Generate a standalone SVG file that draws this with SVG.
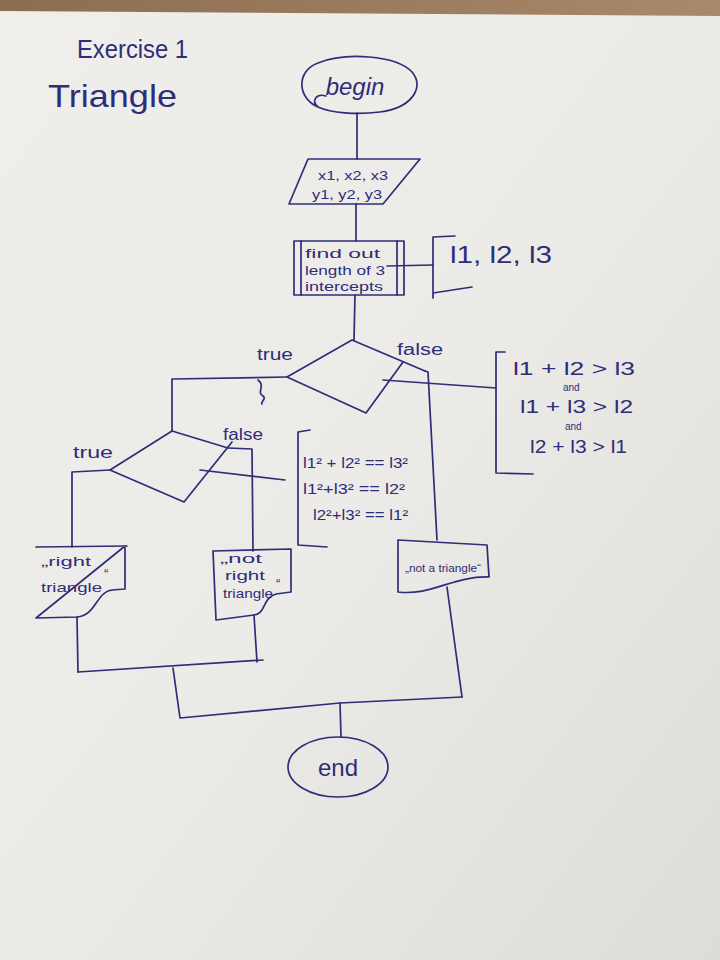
<svg xmlns="http://www.w3.org/2000/svg" width="720" height="960" viewBox="0 0 720 960">
  <defs>
    <linearGradient id="paper" x1="0" y1="0" x2="1" y2="1">
      <stop offset="0" stop-color="#efeeeb"/>
      <stop offset="0.5" stop-color="#ecebe8"/>
      <stop offset="1" stop-color="#dedcd8"/>
    </linearGradient>
    <linearGradient id="desk" x1="0" y1="0" x2="1" y2="0">
      <stop offset="0" stop-color="#8c6d50"/>
      <stop offset="1" stop-color="#a9896a"/>
    </linearGradient>
    <style>
      .ink { fill: none; stroke: #2e2d78; stroke-width: 1.7; stroke-linecap: round; stroke-linejoin: round; }
      .txt { fill: #2e2d78; font-family: "Liberation Sans", "DejaVu Sans", sans-serif; }
      .lbl { font-size: 16px; }
      .small { font-size: 13px; }
      .and { font-size: 10px; }
    </style>
  </defs>

  <!-- sheet of paper on the desk -->
  <rect x="0" y="0" width="720" height="960" fill="url(#paper)"/>
  <path d="M0,0 H720 V16 L0,11 Z" fill="url(#desk)"/>

  <!-- heading -->
  <g id="title">
    <text class="txt" x="77" y="58" font-size="26" textLength="111" lengthAdjust="spacingAndGlyphs">Exercise 1</text>
    <text class="txt" x="48" y="107" font-size="32" textLength="129" lengthAdjust="spacingAndGlyphs">Triangle</text>
  </g>

  <!-- connectors -->
  <g id="connectors" class="ink">
    <path d="M357,113 L357,159"/>
    <path d="M356,204 L356,241"/>
    <path d="M355,295 L354,340"/>
    <!-- outer decision: true branch -->
    <path d="M287,377 L172,379 L172,431"/>
    <path d="M258,380 C266,386 256,392 263,396 C267,399 260,402 262,404"/>
    <!-- outer decision: false branch -->
    <path d="M425,371 L428,372 L437,540"/>
    <!-- inner decision: true branch -->
    <path d="M110,470 L72,472 L72,547"/>
    <!-- inner decision: false branch -->
    <path d="M228,448 L252,449 L253,551"/>
    <!-- outputs to merge -->
    <path d="M77,617 L78,672"/>
    <path d="M254,615 L257,662"/>
    <path d="M78,672 L263,660"/>
    <path d="M173,668 L180,718 L340,703 L462,697"/>
    <path d="M447,587 L462,697"/>
    <path d="M340,703 L341,737"/>
    <!-- annotation leaders -->
    <path d="M387,266 L433,265"/>
    <path d="M383,380 L496,388"/>
    <path d="M200,470 L285,480"/>
  </g>

  <g id="begin">
    <path class="ink" d="M318,107 C297,98 296,71 318,63 C345,52 396,55 412,72 C425,87 412,108 380,112 C356,115 331,113 318,107 C311,101 316,93 326,96"/>
    <text class="txt" x="355" y="95" font-size="24" text-anchor="middle" font-style="italic">begin</text>
  </g>

  <g id="input">
    <path class="ink" d="M308,159 L420,159 L383,204 L289,204 Z"/>
    <text class="txt small" x="353" y="180" text-anchor="middle" textLength="70" lengthAdjust="spacingAndGlyphs">x1, x2, x3</text>
    <text class="txt small" x="347" y="199" text-anchor="middle" textLength="70" lengthAdjust="spacingAndGlyphs">y1, y2, y3</text>
  </g>

  <g id="lengths">
    <rect class="ink" x="294" y="241" width="110" height="54"/>
    <path class="ink" d="M301,241 L301,295 M397,241 L397,295"/>
    <text class="txt small" x="305" y="258" textLength="75" lengthAdjust="spacingAndGlyphs">find out</text>
    <text class="txt small" x="305" y="275" textLength="80" lengthAdjust="spacingAndGlyphs">length of 3</text>
    <text class="txt small" x="305" y="291" textLength="78" lengthAdjust="spacingAndGlyphs">intercepts</text>
  </g>

  <g id="lengths-note">
    <path class="ink" d="M455,236 L433,237 L433,298 M433,293 L472,287"/>
    <text class="txt" x="450" y="263" font-size="24" textLength="102" lengthAdjust="spacingAndGlyphs">l1, l2, l3</text>
  </g>

  <g id="is-triangle">
    <path class="ink" d="M352,340 L287,377 L366,413 L403,362 M352,340 L425,371"/>
    <text class="txt lbl" x="257" y="360" textLength="36" lengthAdjust="spacingAndGlyphs">true</text>
    <text class="txt lbl" x="397" y="355" textLength="46" lengthAdjust="spacingAndGlyphs">false</text>
  </g>

  <g id="triangle-note">
    <path class="ink" d="M505,352 L496,352 L496,473 L533,474"/>
    <text class="txt" x="513" y="375" font-size="19" textLength="122" lengthAdjust="spacingAndGlyphs">l1 + l2 &gt; l3</text>
    <text class="txt and" x="563" y="391">and</text>
    <text class="txt" x="520" y="413" font-size="19" textLength="113" lengthAdjust="spacingAndGlyphs">l1 + l3 &gt; l2</text>
    <text class="txt and" x="565" y="430">and</text>
    <text class="txt" x="530" y="453" font-size="19" textLength="97" lengthAdjust="spacingAndGlyphs">l2 + l3 &gt; l1</text>
  </g>

  <g id="is-right">
    <path class="ink" d="M172,431 L110,470 L184,502 L232,442 M172,431 L228,448"/>
    <text class="txt lbl" x="73" y="458" textLength="40" lengthAdjust="spacingAndGlyphs">true</text>
    <text class="txt lbl" x="223" y="440" textLength="40" lengthAdjust="spacingAndGlyphs">false</text>
  </g>

  <g id="right-note">
    <path class="ink" d="M310,430 L298,432 L298,545 L327,547"/>
    <text class="txt" x="303" y="468" font-size="15" textLength="105" lengthAdjust="spacingAndGlyphs">l1² + l2² == l3²</text>
    <text class="txt" x="303" y="494" font-size="15" textLength="102" lengthAdjust="spacingAndGlyphs">l1²+l3² == l2²</text>
    <text class="txt" x="313" y="520" font-size="15" textLength="95" lengthAdjust="spacingAndGlyphs">l2²+l3² == l1²</text>
  </g>

  <g id="out-right">
    <path class="ink" d="M36,547 L127,546 M125,546 L125,589 L112,590 C96,592 96,616 77,617 L36,618 Z"/>
    <text class="txt small" x="41" y="566" textLength="50" lengthAdjust="spacingAndGlyphs">„right</text>
    <text class="txt small" x="104" y="578">“</text>
    <text class="txt small" x="41" y="592" textLength="61" lengthAdjust="spacingAndGlyphs">triangle</text>
  </g>

  <g id="out-not-right">
    <path class="ink" d="M213,551 L291,549 L291,592 L276,594 C262,598 266,614 254,615 L216,620 Z"/>
    <text class="txt small" x="220" y="563" textLength="42" lengthAdjust="spacingAndGlyphs">„not</text>
    <text class="txt small" x="225" y="580" textLength="40" lengthAdjust="spacingAndGlyphs">right</text>
    <text class="txt small" x="223" y="598" textLength="50" lengthAdjust="spacingAndGlyphs">triangle</text>
    <text class="txt small" x="276" y="588">“</text>
  </g>

  <g id="out-not-triangle">
    <path class="ink" d="M398,540 L487,545 L489,577 C452,576 432,596 398,592 Z"/>
    <text class="txt" x="405" y="572" font-size="11" textLength="76" lengthAdjust="spacingAndGlyphs">„not a triangle“</text>
  </g>

  <g id="end">
    <ellipse class="ink" cx="338" cy="767" rx="50" ry="30"/>
    <text class="txt" x="338" y="776" font-size="24" text-anchor="middle">end</text>
  </g>
</svg>
